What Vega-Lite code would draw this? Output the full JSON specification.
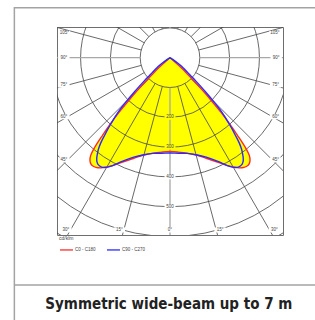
{
  "$schema": "https://vega.github.io/schema/vega-lite/v6.json",
  "width": 226,
  "height": 208,
  "autosize": "none",
  "padding": {"left": 57, "top": 27, "right": 32, "bottom": 85},
  "background": "white",
  "config": {"view": {"stroke": "#6e6e6e", "strokeWidth": 1}},
  "datasets": {
    "curves": [
      {"series": "C0 - C180", "gamma": -51, "cd": 0},
      {"series": "C0 - C180", "gamma": -50, "cd": 14},
      {"series": "C0 - C180", "gamma": -49, "cd": 32},
      {"series": "C0 - C180", "gamma": -48, "cd": 53},
      {"series": "C0 - C180", "gamma": -47, "cd": 75},
      {"series": "C0 - C180", "gamma": -46, "cd": 108},
      {"series": "C0 - C180", "gamma": -45, "cd": 148},
      {"series": "C0 - C180", "gamma": -44, "cd": 196},
      {"series": "C0 - C180", "gamma": -43, "cd": 252},
      {"series": "C0 - C180", "gamma": -42, "cd": 298},
      {"series": "C0 - C180", "gamma": -41, "cd": 345},
      {"series": "C0 - C180", "gamma": -40, "cd": 393},
      {"series": "C0 - C180", "gamma": -39, "cd": 423},
      {"series": "C0 - C180", "gamma": -38, "cd": 436},
      {"series": "C0 - C180", "gamma": -37, "cd": 443},
      {"series": "C0 - C180", "gamma": -36, "cd": 446},
      {"series": "C0 - C180", "gamma": -34, "cd": 444},
      {"series": "C0 - C180", "gamma": -32, "cd": 436},
      {"series": "C0 - C180", "gamma": -30, "cd": 423},
      {"series": "C0 - C180", "gamma": -28, "cd": 410},
      {"series": "C0 - C180", "gamma": -25, "cd": 388},
      {"series": "C0 - C180", "gamma": -20, "cd": 360},
      {"series": "C0 - C180", "gamma": -15, "cd": 338},
      {"series": "C0 - C180", "gamma": -10, "cd": 325},
      {"series": "C0 - C180", "gamma": -5, "cd": 318},
      {"series": "C0 - C180", "gamma": 0, "cd": 315},
      {"series": "C0 - C180", "gamma": 5, "cd": 318},
      {"series": "C0 - C180", "gamma": 10, "cd": 325},
      {"series": "C0 - C180", "gamma": 15, "cd": 338},
      {"series": "C0 - C180", "gamma": 20, "cd": 360},
      {"series": "C0 - C180", "gamma": 25, "cd": 388},
      {"series": "C0 - C180", "gamma": 28, "cd": 410},
      {"series": "C0 - C180", "gamma": 30, "cd": 423},
      {"series": "C0 - C180", "gamma": 32, "cd": 436},
      {"series": "C0 - C180", "gamma": 34, "cd": 444},
      {"series": "C0 - C180", "gamma": 36, "cd": 446},
      {"series": "C0 - C180", "gamma": 37, "cd": 443},
      {"series": "C0 - C180", "gamma": 38, "cd": 436},
      {"series": "C0 - C180", "gamma": 39, "cd": 423},
      {"series": "C0 - C180", "gamma": 40, "cd": 393},
      {"series": "C0 - C180", "gamma": 41, "cd": 345},
      {"series": "C0 - C180", "gamma": 42, "cd": 298},
      {"series": "C0 - C180", "gamma": 43, "cd": 252},
      {"series": "C0 - C180", "gamma": 44, "cd": 196},
      {"series": "C0 - C180", "gamma": 45, "cd": 148},
      {"series": "C0 - C180", "gamma": 46, "cd": 108},
      {"series": "C0 - C180", "gamma": 47, "cd": 75},
      {"series": "C0 - C180", "gamma": 48, "cd": 53},
      {"series": "C0 - C180", "gamma": 49, "cd": 32},
      {"series": "C0 - C180", "gamma": 50, "cd": 14},
      {"series": "C0 - C180", "gamma": 51, "cd": 0},
      {"series": "C90 - C270", "gamma": -58, "cd": 0},
      {"series": "C90 - C270", "gamma": -56, "cd": 22},
      {"series": "C90 - C270", "gamma": -54, "cd": 42},
      {"series": "C90 - C270", "gamma": -52, "cd": 58},
      {"series": "C90 - C270", "gamma": -50, "cd": 78},
      {"series": "C90 - C270", "gamma": -49, "cd": 92},
      {"series": "C90 - C270", "gamma": -48, "cd": 115},
      {"series": "C90 - C270", "gamma": -47, "cd": 140},
      {"series": "C90 - C270", "gamma": -46, "cd": 168},
      {"series": "C90 - C270", "gamma": -45, "cd": 204},
      {"series": "C90 - C270", "gamma": -44, "cd": 240},
      {"series": "C90 - C270", "gamma": -43, "cd": 268},
      {"series": "C90 - C270", "gamma": -42, "cd": 292},
      {"series": "C90 - C270", "gamma": -41, "cd": 318},
      {"series": "C90 - C270", "gamma": -40, "cd": 343},
      {"series": "C90 - C270", "gamma": -39, "cd": 370},
      {"series": "C90 - C270", "gamma": -38, "cd": 390},
      {"series": "C90 - C270", "gamma": -37, "cd": 405},
      {"series": "C90 - C270", "gamma": -36, "cd": 418},
      {"series": "C90 - C270", "gamma": -35, "cd": 427},
      {"series": "C90 - C270", "gamma": -34, "cd": 432},
      {"series": "C90 - C270", "gamma": -32, "cd": 433},
      {"series": "C90 - C270", "gamma": -30, "cd": 425},
      {"series": "C90 - C270", "gamma": -28, "cd": 410},
      {"series": "C90 - C270", "gamma": -25, "cd": 385},
      {"series": "C90 - C270", "gamma": -20, "cd": 355},
      {"series": "C90 - C270", "gamma": -15, "cd": 337},
      {"series": "C90 - C270", "gamma": -10, "cd": 326},
      {"series": "C90 - C270", "gamma": -5, "cd": 322},
      {"series": "C90 - C270", "gamma": 0, "cd": 320},
      {"series": "C90 - C270", "gamma": 5, "cd": 322},
      {"series": "C90 - C270", "gamma": 10, "cd": 326},
      {"series": "C90 - C270", "gamma": 15, "cd": 337},
      {"series": "C90 - C270", "gamma": 20, "cd": 355},
      {"series": "C90 - C270", "gamma": 25, "cd": 385},
      {"series": "C90 - C270", "gamma": 28, "cd": 410},
      {"series": "C90 - C270", "gamma": 30, "cd": 425},
      {"series": "C90 - C270", "gamma": 32, "cd": 433},
      {"series": "C90 - C270", "gamma": 34, "cd": 432},
      {"series": "C90 - C270", "gamma": 35, "cd": 427},
      {"series": "C90 - C270", "gamma": 36, "cd": 418},
      {"series": "C90 - C270", "gamma": 37, "cd": 405},
      {"series": "C90 - C270", "gamma": 38, "cd": 390},
      {"series": "C90 - C270", "gamma": 39, "cd": 370},
      {"series": "C90 - C270", "gamma": 40, "cd": 343},
      {"series": "C90 - C270", "gamma": 41, "cd": 318},
      {"series": "C90 - C270", "gamma": 42, "cd": 292},
      {"series": "C90 - C270", "gamma": 43, "cd": 268},
      {"series": "C90 - C270", "gamma": 44, "cd": 240},
      {"series": "C90 - C270", "gamma": 45, "cd": 204},
      {"series": "C90 - C270", "gamma": 46, "cd": 168},
      {"series": "C90 - C270", "gamma": 47, "cd": 140},
      {"series": "C90 - C270", "gamma": 48, "cd": 115},
      {"series": "C90 - C270", "gamma": 49, "cd": 92},
      {"series": "C90 - C270", "gamma": 50, "cd": 78},
      {"series": "C90 - C270", "gamma": 52, "cd": 58},
      {"series": "C90 - C270", "gamma": 54, "cd": 42},
      {"series": "C90 - C270", "gamma": 56, "cd": 22},
      {"series": "C90 - C270", "gamma": 58, "cd": 0}
    ],
    "rings": [{"ring": 100}, {"ring": 200}, {"ring": 300}, {"ring": 400}, {"ring": 500}, {"ring": 600}, {"ring": 700}],
    "spokes": [
      {"g": 15}, {"g": 30}, {"g": 45}, {"g": 60}, {"g": 75}, {"g": 105}, {"g": 120}, {"g": 135}, {"g": 150}, {"g": 165},
      {"g": -15}, {"g": -30}, {"g": -45}, {"g": -60}, {"g": -75}, {"g": -105}, {"g": -120}, {"g": -135}, {"g": -150}, {"g": -165}
    ],
    "mainAxes": [{"g": 0}, {"g": 90}, {"g": 180}, {"g": -90}],
    "angleLabels": [
      {"t": "105°", "lx": -354, "ly": 82},
      {"t": "90°", "lx": -356, "ly": 0},
      {"t": "75°", "lx": -356, "ly": -92},
      {"t": "60°", "lx": -356, "ly": -198},
      {"t": "45°", "lx": -356, "ly": -343},
      {"t": "30°", "lx": -349, "ly": -578},
      {"t": "15°", "lx": -170, "ly": -578},
      {"t": "0°", "lx": 0, "ly": -578},
      {"t": "15°", "lx": 168, "ly": -578},
      {"t": "30°", "lx": 350, "ly": -578},
      {"t": "45°", "lx": 354, "ly": -343},
      {"t": "60°", "lx": 354, "ly": -198},
      {"t": "75°", "lx": 354, "ly": -92},
      {"t": "90°", "lx": 356, "ly": 0},
      {"t": "105°", "lx": 352, "ly": 82}
    ],
    "valueLabels": [{"t": "200", "v": -200}, {"t": "300", "v": -300}, {"t": "400", "v": -400}, {"t": "500", "v": -500}]
  },
  "layer": [
    {
      "data": {"values": [{}]},
      "mark": {"type": "rect", "fill": null, "stroke": "#a3a3a3", "strokeWidth": 1.5},
      "encoding": {
        "x": {"datum": -522, "type": "quantitative", "scale": {"domain": [-379, 379], "nice": false, "zero": false}, "axis": null},
        "x2": {"datum": 520},
        "y": {"datum": 168, "type": "quantitative", "scale": {"domain": [-595, 103], "nice": false, "zero": false}, "axis": null},
        "y2": {"datum": -930}
      }
    },
    {
      "data": {"values": [{}]},
      "mark": {"type": "rule", "stroke": "#a3a3a3", "strokeWidth": 1.5},
      "encoding": {
        "x": {"datum": -522, "type": "quantitative"},
        "x2": {"datum": 520},
        "y": {"datum": -763, "type": "quantitative"}
      }
    },
    {
      "data": {"values": [{"t": "Symmetric wide-beam up to 7 m"}]},
      "mark": {"type": "text", "font": "DejaVu Sans Condensed", "fontWeight": "bold", "fontSize": 15, "color": "#222222", "baseline": "middle", "align": "center"},
      "encoding": {
        "x": {"datum": -4, "type": "quantitative"},
        "y": {"datum": -826, "type": "quantitative"},
        "text": {"field": "t"}
      }
    },
    {
      "data": {"name": "curves"},
      "transform": [
        {"filter": "datum.series === 'C0 - C180'"},
        {"calculate": "datum.cd * sin(datum.gamma * PI / 180)", "as": "px"},
        {"calculate": "-datum.cd * cos(datum.gamma * PI / 180)", "as": "py"}
      ],
      "mark": {"type": "line", "fill": "#ffff00", "stroke": null, "interpolate": "catmull-rom"},
      "encoding": {
        "x": {"field": "px", "type": "quantitative"},
        "y": {"field": "py", "type": "quantitative"},
        "order": {"field": "gamma", "type": "quantitative"}
      }
    },
    {
      "data": {"name": "rings"},
      "mark": {"type": "point", "shape": "circle", "filled": false, "stroke": "#4e4e4e", "strokeWidth": 0.85, "opacity": 1, "clip": true},
      "encoding": {
        "x": {"datum": 0, "type": "quantitative"},
        "y": {"datum": 0, "type": "quantitative"},
        "size": {"field": "ring", "type": "quantitative", "scale": {"type": "pow", "exponent": 2, "domain": [0, 700], "range": [0, 174140], "zero": true, "nice": false}, "legend": null}
      }
    },
    {
      "data": {"name": "spokes"},
      "transform": [
        {"calculate": "100 * sin(datum.g * PI / 180)", "as": "x1"},
        {"calculate": "-100 * cos(datum.g * PI / 180)", "as": "y1"},
        {"calculate": "1000 * sin(datum.g * PI / 180)", "as": "x2"},
        {"calculate": "-1000 * cos(datum.g * PI / 180)", "as": "y2"}
      ],
      "mark": {"type": "rule", "stroke": "#4e4e4e", "strokeWidth": 0.85, "clip": true},
      "encoding": {
        "x": {"field": "x1", "type": "quantitative"},
        "y": {"field": "y1", "type": "quantitative"},
        "x2": {"field": "x2"},
        "y2": {"field": "y2"}
      }
    },
    {
      "data": {"name": "mainAxes"},
      "transform": [
        {"calculate": "100 * sin(datum.g * PI / 180)", "as": "x1"},
        {"calculate": "-100 * cos(datum.g * PI / 180)", "as": "y1"},
        {"calculate": "1000 * sin(datum.g * PI / 180)", "as": "x2"},
        {"calculate": "-1000 * cos(datum.g * PI / 180)", "as": "y2"}
      ],
      "mark": {"type": "rule", "stroke": "#a8a8a8", "strokeWidth": 1.3, "clip": true},
      "encoding": {
        "x": {"field": "x1", "type": "quantitative"},
        "y": {"field": "y1", "type": "quantitative"},
        "x2": {"field": "x2"},
        "y2": {"field": "y2"}
      }
    },
    {
      "data": {"name": "curves"},
      "transform": [
        {"calculate": "datum.cd * sin(datum.gamma * PI / 180)", "as": "px"},
        {"calculate": "-datum.cd * cos(datum.gamma * PI / 180)", "as": "py"}
      ],
      "mark": {"type": "line", "strokeWidth": 1.4, "interpolate": "catmull-rom"},
      "encoding": {
        "x": {"field": "px", "type": "quantitative"},
        "y": {"field": "py", "type": "quantitative"},
        "order": {"field": "gamma", "type": "quantitative"},
        "color": {
          "field": "series",
          "type": "nominal",
          "scale": {"domain": ["C0 - C180", "C90 - C270"], "range": ["#ff2a2a", "#2a2aff"]},
          "legend": {
            "orient": "none",
            "legendX": 2,
            "legendY": 209,
            "direction": "horizontal",
            "title": "cd/klm",
            "titleFont": "Liberation Sans",
            "titleFontSize": 5,
            "titleFontWeight": "normal",
            "titleColor": "#444444",
            "titlePadding": 1,
            "labelFont": "Liberation Sans",
            "labelFontSize": 4.5,
            "labelColor": "#444444",
            "labelOffset": 1,
            "symbolType": "stroke",
            "symbolSize": 169,
            "symbolStrokeWidth": 1.3,
            "columnPadding": 8,
            "padding": 0
          }
        }
      }
    },
    {
      "data": {"name": "angleLabels"},
      "mark": {"type": "point", "shape": "M-1,-0.45H1V0.45H-1Z", "filled": true, "fill": "white", "stroke": null, "opacity": 1, "size": 130},
      "encoding": {
        "x": {"field": "lx", "type": "quantitative"},
        "y": {"field": "ly", "type": "quantitative"}
      }
    },
    {
      "data": {"name": "valueLabels"},
      "mark": {"type": "point", "shape": "M-1,-0.45H1V0.45H-1Z", "filled": true, "fill": "white", "stroke": null, "opacity": 1, "size": 120},
      "transform": [{"filter": "datum.v < -350"}],
      "encoding": {
        "x": {"datum": 0, "type": "quantitative"},
        "y": {"field": "v", "type": "quantitative"}
      }
    },
    {
      "data": {"name": "valueLabels"},
      "mark": {"type": "point", "shape": "M-1,-0.45H1V0.45H-1Z", "filled": true, "fill": "#ffff00", "stroke": null, "opacity": 1, "size": 120},
      "transform": [{"filter": "datum.v > -350"}],
      "encoding": {
        "x": {"datum": 0, "type": "quantitative"},
        "y": {"field": "v", "type": "quantitative"}
      }
    },
    {
      "data": {"name": "angleLabels"},
      "mark": {"type": "text", "font": "Liberation Sans", "fontSize": 4.5, "color": "#444444", "baseline": "middle", "align": "center"},
      "encoding": {
        "x": {"field": "lx", "type": "quantitative"},
        "y": {"field": "ly", "type": "quantitative"},
        "text": {"field": "t"}
      }
    },
    {
      "data": {"name": "valueLabels"},
      "mark": {"type": "text", "font": "Liberation Sans", "fontSize": 4.5, "color": "#444444", "baseline": "middle", "align": "center"},
      "encoding": {
        "x": {"datum": 0, "type": "quantitative"},
        "y": {"field": "v", "type": "quantitative"},
        "text": {"field": "t"}
      }
    }
  ]
}
